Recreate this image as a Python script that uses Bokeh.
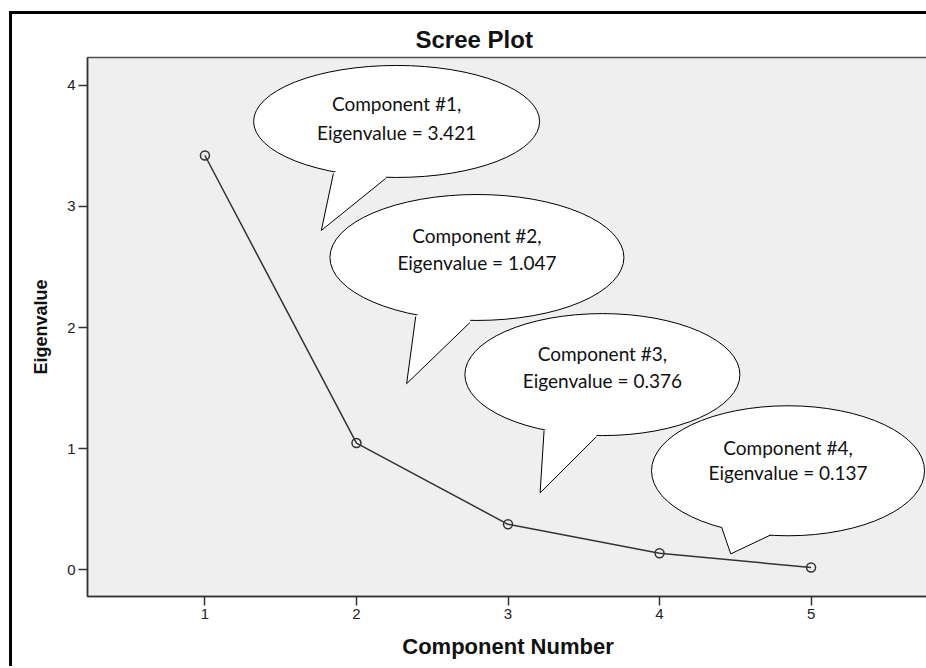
from bokeh.plotting import figure
from bokeh.models import Range1d, FixedTicker
from bokeh.embed import file_html
from bokeh.resources import INLINE
from bokeh.core.properties import value

# ---- data ----
components = [1, 2, 3, 4, 5]
eigenvalues = [3.421, 1.047, 0.376, 0.137, 0.019]
x_ticks = [1, 2, 3, 4, 5]
y_ticks = [0, 1, 2, 3, 4]
callout_components = [1, 2, 3, 4]
callout_eigen = [3.421, 1.047, 0.376, 0.137]
callout_line1 = [f"Component #{c}," for c in callout_components]
callout_line2 = [f"Eigenvalue = {v:.3f}" for v in callout_eigen]

# ---- callout layout (centres in data space, sizes in screen px) ----
bubble_cx = [2.265, 2.795, 3.623, 4.848]
bubble_cy = [3.702, 2.579, 1.612, 0.818]
bubble_w = [286, 294, 275, 273]
bubble_h = [112, 126, 122, 130]
tail_l = [(1.848, 3.273), (2.391, 2.091), (3.238, 1.149), (4.411, 0.347)]
tail_tip = [(1.768, 2.802), (2.331, 1.537), (3.212, 0.636), (4.470, 0.132)]
tail_r = [(2.192, 3.231), (2.748, 2.041), (3.583, 1.099), (4.735, 0.289)]
text_y1 = [3.851, 2.760, 1.785, 1.008]
text_y2 = [3.612, 2.537, 1.562, 0.802]

p = figure(width=917, height=655,
           x_range=Range1d(0.225, 5.775), y_range=Range1d(-0.22, 4.23),
           output_backend="svg", toolbar_location=None,
           min_border_left=75, min_border_right=1,
           min_border_top=43, min_border_bottom=73)
p.styles = {"border-left": "3px solid black", "border-top": "3px solid black",
            "margin-left": "9px", "margin-top": "11px"}

p.background_fill_color = "#efefef"
p.border_fill_color = "white"
p.outline_line_color = "#4d4d4d"
p.outline_line_width = 1.5
p.xgrid.visible = False
p.ygrid.visible = False

p.title.text = "Scree Plot"
p.title.align = "left"
p.title.offset = 328
p.title.text_font = "Liberation Sans"
p.title.text_font_size = "24px"
p.title.text_font_style = "bold"
p.title.text_color = "#111111"

for ax in (p.xaxis[0], p.yaxis[0]):
    ax.minor_tick_line_color = None
    ax.major_tick_in = 0
    ax.major_tick_out = 9
    ax.major_tick_line_color = "#333333"
    ax.major_tick_line_width = 1.5
    ax.axis_line_color = "#333333"
    ax.axis_line_width = 1.5
    ax.major_label_text_font = "Liberation Sans"
    ax.major_label_text_font_size = "15px"
    ax.major_label_text_color = "#222222"
    ax.major_label_standoff = 3
    ax.axis_label_text_font = "Liberation Sans"
    ax.axis_label_text_font_style = "bold"
    ax.axis_label_text_color = "#111111"

p.xaxis.ticker = FixedTicker(ticks=x_ticks)
p.yaxis.ticker = FixedTicker(ticks=y_ticks)
p.xaxis.axis_label = "Component Number"
p.xaxis.axis_label_text_font_size = "22px"
p.xaxis.axis_label_standoff = 12
p.yaxis.axis_label = "Eigenvalue"
p.yaxis.axis_label_text_font_size = "18px"
p.yaxis.axis_label_standoff = 13

# scree line
p.line(components, eigenvalues, line_color="#333333", line_width=1.5)
p.scatter(components, eigenvalues, marker="circle", size=9, fill_color=None,
          line_color="#333333", line_width=1.5)

# callouts
for i in range(len(bubble_cx)):
    cx, cy = bubble_cx[i], bubble_cy[i]
    p.ellipse(x=[cx], y=[cy], width=[bubble_w[i]], height=[bubble_h[i]],
              width_units="screen", height_units="screen",
              fill_color="white", line_color="black", line_width=1)
    (lx, ly), (tx, ty), (rx, ry) = tail_l[i], tail_tip[i], tail_r[i]
    f = 0.12
    lix, liy = lx + f * (cx - lx), ly + f * (cy - ly)
    rix, riy = rx + f * (cx - rx), ry + f * (cy - ry)
    p.patch([lix, lx, tx, rx, rix], [liy, ly, ty, ry, riy],
            fill_color="white", line_color=None)
    p.line([lx, tx, rx], [ly, ty, ry], line_color="black", line_width=1)

p.text(x=bubble_cx, y=text_y1, text=callout_line1, text_align="center",
       text_baseline="middle", text_font=value("Lato"), text_font_size="19px",
       text_color="#111111")
p.text(x=bubble_cx, y=text_y2, text=callout_line2, text_align="center",
       text_baseline="middle", text_font=value("Lato"), text_font_size="19px",
       text_color="#111111")

open("out.html", "w").write(file_html(p, INLINE))
